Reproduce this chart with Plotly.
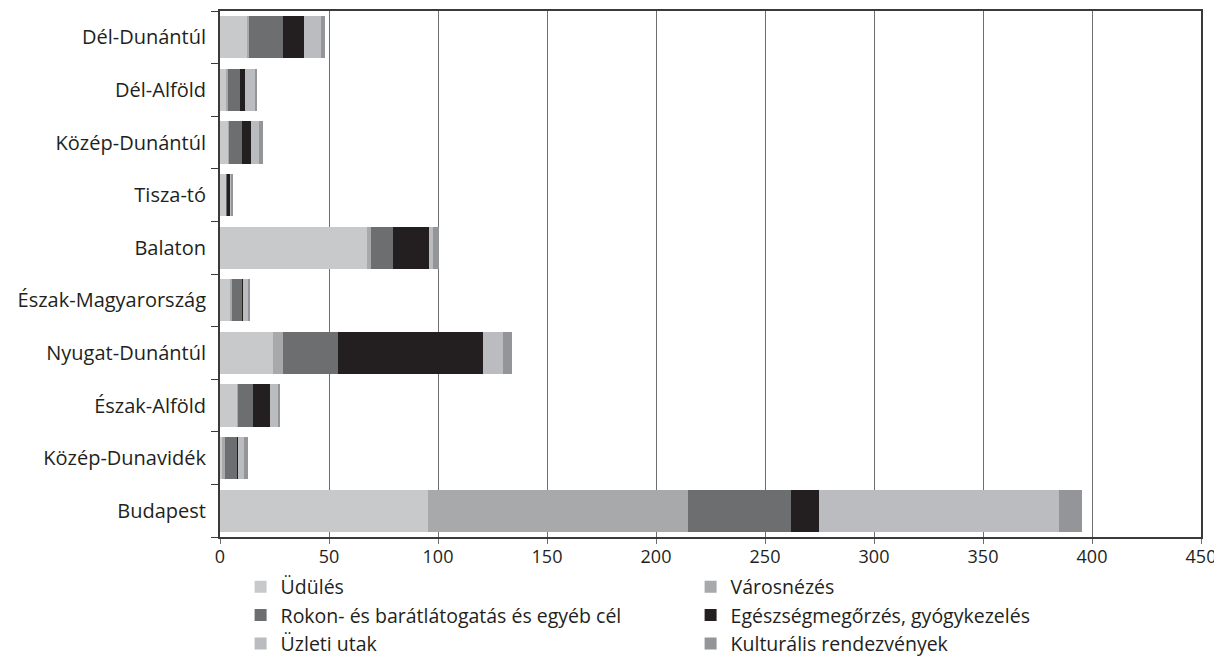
import plotly.graph_objects as go

regions = ["Budapest", "Közép-Dunavidék", "Észak-Alföld", "Nyugat-Dunántúl",
           "Észak-Magyarország", "Balaton", "Tisza-tó", "Közép-Dunántúl",
           "Dél-Alföld", "Dél-Dunántúl"]

series_names = ["Üdülés", "Városnézés", "Rokon- és barátlátogatás és egyéb cél",
                "Egészségmegőrzés, gyógykezelés", "Üzleti utak", "Kulturális rendezvények"]

udules      = [95.6, 0.9, 7.8, 24.3, 4.6, 67.5, 2.8, 3.7, 3.2, 12.6]
varosnezes  = [119.0, 1.4, 0.3, 4.6, 0.9, 1.9, 0.0, 0.2, 0.3, 0.7]
rokon       = [47.4, 5.5, 6.9, 25.3, 4.6, 10.1, 0.3, 6.2, 5.7, 15.6]
egeszseg    = [12.7, 0.5, 7.8, 66.6, 0.5, 16.5, 1.8, 4.1, 2.3, 9.7]
uzleti      = [110.3, 2.7, 4.1, 9.2, 2.7, 1.8, 0.5, 3.7, 5.0, 7.8]
kulturalis  = [10.6, 1.9, 0.3, 4.1, 0.3, 2.6, 0.4, 1.9, 0.2, 1.8]

colors = ["#c8c9cb", "#a8a9ab", "#6d6e70", "#231f20", "#bbbcbf", "#939598"]

x_ticks = [0, 50, 100, 150, 200, 250, 300, 350, 400, 450]

fig = go.Figure()
for name, vals, col in zip(series_names,
                           [udules, varosnezes, rokon, egeszseg, uzleti, kulturalis],
                           colors):
    fig.add_trace(go.Bar(y=regions, x=vals, name=name, orientation="h",
                         marker=dict(color=col, line=dict(width=0))))

fig.update_layout(
    barmode="stack",
    bargap=0.2,
    width=1214, height=653,
    margin=dict(l=212, r=21, t=3, b=124, autoexpand=False),
    paper_bgcolor="white", plot_bgcolor="white",
    font=dict(family="Open Sans, Lato, sans-serif", size=18, color="#231f20"),
    legend=dict(orientation="h", x=0.021, xanchor="left", y=-0.058, yanchor="top",
                entrywidth=405, font=dict(size=19.5), traceorder="normal",
                tracegroupgap=0),
    xaxis=dict(range=[0, 450], tickvals=x_ticks, showgrid=True,
               gridcolor="#6d6e70", gridwidth=1.2, zeroline=False,
               showline=True, linecolor="#3a3a3a", linewidth=2, mirror=True,
               ticks="outside", ticklen=5, tickcolor="#6d6e70",
               tickfont=dict(size=18), ticklabelstandoff=-3),
    yaxis=dict(showline=True, linecolor="#3a3a3a", linewidth=2, mirror=True,
               ticks="outside", ticklen=7, tickcolor="#3a3a3a",
               tickson="boundaries", showgrid=False,
               tickfont=dict(size=20), ticklabelstandoff=8),
)

fig.write_html("out.html")
